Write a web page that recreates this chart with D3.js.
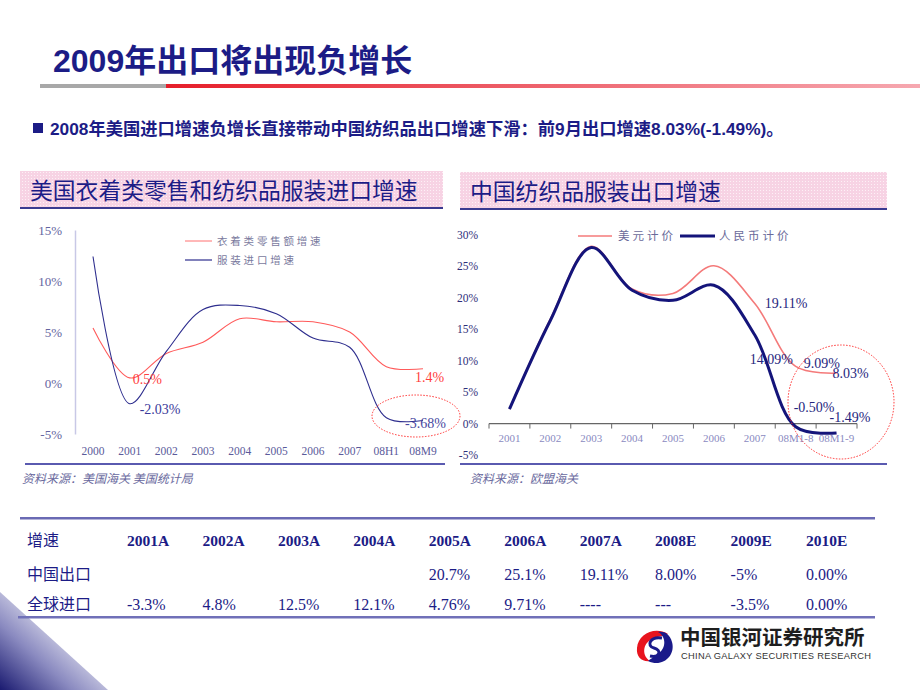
<!DOCTYPE html>
<html><head><meta charset="utf-8">
<script src="https://cdn.jsdelivr.net/npm/d3@7"></script>
<style>
body{margin:0;background:#fff;}
svg{display:block;}
</style></head>
<body>
<svg id="c" width="920" height="690"></svg>
<script>
// ---------------- DATA ----------------
const titleText = "2009年出口将出现负增长";
const bulletText = "2008年美国进口增速负增长直接带动中国纺织品出口增速下滑：前9月出口增速8.03%(-1.49%)。";
const leftTitle = "美国衣着类零售和纺织品服装进口增速";
const rightTitle = "中国纺织品服装出口增速";

const leftCats = ["2000","2001","2002","2003","2004","2005","2006","2007","08H1","08M9"];
const retailGrowth = [5.4, 0.5, 2.9, 4.0, 6.3, 6.0, 6.0, 5.0, 1.6, 1.4];
const apparelImport = [12.4, -2.03, 3.1, 7.2, 7.6, 6.8, 4.4, 3.5, -3.4, -3.68];
const leftYTicks = [-5, 0, 5, 10, 15];
const leftLegend = ["衣着类零售额增速", "服装进口增速"];
const leftSource = "资料来源：美国海关 美国统计局";

const rightCats = ["2001","2002","2003","2004","2005","2006","2007","08M1-8","08M1-9"];
const usdGrowth = [2.3, 16.6, 28.2, 21.4, 20.7, 25.1, 19.11, 9.09, 8.03];
const rmbGrowth = [2.3, 16.4, 28.0, 21.2, 19.6, 22.0, 14.09, -0.50, -1.49];
const rightYTicks = [-5, 0, 5, 10, 15, 20, 25, 30];
const rightLegend = ["美元计价", "人民币计价"];
const rightSource = "资料来源：欧盟海关";

const tableCorner = "增速";
const tableHeaders = ["2001A","2002A","2003A","2004A","2005A","2006A","2007A","2008E","2009E","2010E"];
const rowLabels = ["中国出口","全球进口"];
const chinaExport = ["","","","","20.7%","25.1%","19.11%","8.00%","-5%","0.00%"];
const globalImport = ["-3.3%","4.8%","12.5%","12.1%","4.76%","9.71%","----","---","-3.5%","0.00%"];

const logoCn = "中国银河证券研究所";
const logoEn = "CHINA GALAXY SECURITIES RESEARCH";

// ---------------- DRAW ----------------
const svg = d3.select("#c");
const SANS = "'Liberation Sans','Noto Sans CJK SC',sans-serif";
const CJK = "'Noto Sans CJK SC','Liberation Sans',sans-serif";
const SERIF = "'Liberation Serif','Noto Serif CJK SC',serif";
const NAVY = "#1c1c86";

const defs = svg.append("defs");
const rg = defs.append("linearGradient").attr("id","redline").attr("x1","0").attr("x2","1");
rg.append("stop").attr("offset","0").attr("stop-color","#e61e2a");
rg.append("stop").attr("offset","1").attr("stop-color","#f6a8b0");
const cg = defs.append("linearGradient").attr("id","corner").attr("x1","0").attr("y1","1").attr("x2","0.75").attr("y2","0.25");
cg.append("stop").attr("offset","0").attr("stop-color","#1a1a70");
cg.append("stop").attr("offset","0.45").attr("stop-color","#8a8ac0");
cg.append("stop").attr("offset","1").attr("stop-color","#ffffff");
const pat = defs.append("pattern").attr("id","pinkdots").attr("width",3).attr("height",3).attr("patternUnits","userSpaceOnUse");
pat.append("rect").attr("width",3).attr("height",3).attr("fill","#f7d3e4");
pat.append("rect").attr("x",1).attr("y",1).attr("width",1).attr("height",1).attr("fill","#fdf0f6");

// corner decoration
svg.append("path").attr("d","M0,592 L108,690 L0,690 Z").attr("fill","url(#corner)");

// title
svg.append("text").attr("x",53).attr("y",72).attr("font-family",SANS).attr("font-weight","bold")
  .attr("font-size",32).attr("fill",NAVY).text(titleText);
svg.append("rect").attr("x",40).attr("y",84).attr("width",126).attr("height",4).attr("fill","#a8a8a8");
svg.append("rect").attr("x",166).attr("y",84).attr("width",754).attr("height",4).attr("fill","url(#redline)");

// bullet
svg.append("rect").attr("x",33).attr("y",123).attr("width",10).attr("height",10).attr("fill",NAVY);
svg.append("text").attr("x",50).attr("y",135).attr("font-family",SANS).attr("font-weight","bold")
  .attr("font-size",17.3).attr("fill",NAVY).text(bulletText);

// section headers
function header(x0, x1, y0, y1, txt){
  svg.append("rect").attr("x",x0).attr("y",y0).attr("width",x1-x0).attr("height",y1-y0).attr("fill","url(#pinkdots)");
  svg.append("rect").attr("x",x0).attr("y",y1).attr("width",x1-x0).attr("height",2).attr("fill","#3a3a90");
  svg.append("text").attr("x",x0+10).attr("y",y1-8).attr("font-family",CJK).attr("font-size",22.8)
    .attr("fill",NAVY).text(txt);
}
header(20, 443, 171, 207, leftTitle);
header(460, 887, 172, 208, rightTitle);

// ---------------- LEFT CHART ----------------
const lx = d3.scalePoint().domain(leftCats).range([93, 423]);
const ly = d3.scaleLinear().domain([-5, 15]).range([434, 230]);
const lg = svg.append("g");
const lAxis = lg.append("g").attr("transform","translate(75,0)")
  .call(d3.axisLeft(ly).tickValues(leftYTicks).tickSize(0).tickPadding(13).tickFormat(d=>d+"%"));
lAxis.select(".domain").attr("stroke","#c8c8e6").attr("stroke-width",1.5);
lAxis.selectAll("text").attr("font-family",SERIF).attr("font-size",13).attr("fill","#6464a0");
leftCats.forEach(c=>{
  lg.append("text").attr("x",lx(c)).attr("y",455).attr("text-anchor","middle").attr("font-family",SERIF)
    .attr("font-size",11.5).attr("fill","#5a5a9a").text(c);
});
const lline = d3.line().x((d,i)=>lx(leftCats[i])).y(d=>ly(d)).curve(d3.curveCatmullRom.alpha(0.5));
lg.append("path").attr("d",lline(retailGrowth)).attr("fill","none").attr("stroke","#ff5a5a").attr("stroke-width",1.1);
lg.append("path").attr("d",lline(apparelImport)).attr("fill","none").attr("stroke","#2e2e8e").attr("stroke-width",1.1);
// legend
lg.append("line").attr("x1",185).attr("x2",212).attr("y1",241).attr("y2",241).attr("stroke","#ff7070").attr("stroke-width",1);
lg.append("text").attr("x",217).attr("y",245).attr("font-family",CJK).attr("font-size",10.5).attr("letter-spacing",2.8)
  .attr("fill","#7a7a9e").text(leftLegend[0]);
lg.append("line").attr("x1",185).attr("x2",212).attr("y1",260).attr("y2",260).attr("stroke","#2e2e8e").attr("stroke-width",1.2);
lg.append("text").attr("x",217).attr("y",264).attr("font-family",CJK).attr("font-size",10.5).attr("letter-spacing",2.8)
  .attr("fill","#7a7a9e").text(leftLegend[1]);
// value labels
lg.append("text").attr("x",lx("2001")+3).attr("y",ly(retailGrowth[1])+6).attr("font-family",SERIF).attr("font-size",14)
  .attr("fill","#ff4040").text(retailGrowth[1]+"%");
lg.append("text").attr("x",lx("2001")+10).attr("y",ly(apparelImport[1])+10).attr("font-family",SERIF).attr("font-size",14)
  .attr("fill","#3a3a9a").text(apparelImport[1].toFixed(2)+"%");
lg.append("text").attr("x",lx("08M9")-8).attr("y",ly(retailGrowth[9])+13).attr("font-family",SERIF).attr("font-size",14)
  .attr("fill","#ff4040").text(retailGrowth[9]+"%");
lg.append("text").attr("x",lx("08M9")-18).attr("y",ly(apparelImport[9])+7).attr("font-family",SERIF).attr("font-size",14)
  .attr("fill","#4848a0").text(apparelImport[9].toFixed(2)+"%");
lg.append("ellipse").attr("cx",416).attr("cy",416).attr("rx",44).attr("ry",21).attr("fill","none")
  .attr("stroke","#ff3030").attr("stroke-width",1).attr("stroke-dasharray","1.5,1.5");
// bottom line and source
svg.append("rect").attr("x",25).attr("y",463).attr("width",420).attr("height",2).attr("fill","#5a5ab0");
svg.append("text").attr("x",22).attr("y",483).attr("font-family",CJK).attr("font-style","italic").attr("font-size",12)
  .attr("fill","#6a6a9e").text(leftSource);

// ---------------- RIGHT CHART ----------------
const rx = d3.scaleBand().domain(rightCats).range([489, 857]);
const ry = d3.scaleLinear().domain([-5, 30]).range([455, 235]);
const rgp = svg.append("g");
rightYTicks.forEach(t=>{
  rgp.append("text").attr("x",478).attr("y",ry(t)+4).attr("text-anchor","end").attr("font-family",SERIF)
    .attr("font-size",11.5).attr("fill","#2e2e7a").text(t+"%");
});
rgp.append("line").attr("x1",489).attr("x2",857).attr("y1",ry(0)).attr("y2",ry(0)).attr("stroke","#666").attr("stroke-width",1.2);
rightCats.concat([null]).forEach((c,i)=>{
  const xx = c===null ? rx.range()[1] : rx(c);
  rgp.append("line").attr("x1",xx).attr("x2",xx).attr("y1",ry(0)).attr("y2",ry(0)+5).attr("stroke","#666");
});
rightCats.forEach(c=>{
  rgp.append("text").attr("x",rx(c)+rx.bandwidth()/2).attr("y",442).attr("text-anchor","middle")
    .attr("font-family",SERIF).attr("font-size",11).attr("fill","#8a8abf").text(c);
});
const rline = d3.line().x((d,i)=>rx(rightCats[i])+rx.bandwidth()/2).y(d=>ry(d)).curve(d3.curveCatmullRom.alpha(0.5));
rgp.append("path").attr("d",rline(usdGrowth)).attr("fill","none").attr("stroke","#f47a7a").attr("stroke-width",1.6);
rgp.append("path").attr("d",rline(rmbGrowth)).attr("fill","none").attr("stroke","#14147a").attr("stroke-width",3);
// legend
rgp.append("line").attr("x1",578).attr("x2",612).attr("y1",236).attr("y2",236).attr("stroke","#f47a7a").attr("stroke-width",1.5);
rgp.append("text").attr("x",618).attr("y",240).attr("font-family",CJK).attr("font-size",11.5).attr("letter-spacing",3)
  .attr("fill","#6a6a9a").text(rightLegend[0]);
rgp.append("line").attr("x1",680).attr("x2",715).attr("y1",236).attr("y2",236).attr("stroke","#14147a").attr("stroke-width",3);
rgp.append("text").attr("x",719).attr("y",240).attr("font-family",CJK).attr("font-size",11.5).attr("letter-spacing",3)
  .attr("fill","#6a6a9a").text(rightLegend[1]);
// labels
const lab = (x,y,t)=>rgp.append("text").attr("x",x).attr("y",y).attr("font-family",SERIF).attr("font-size",14)
  .attr("fill","#26267e").text(t);
const cx = c=>rx(c)+rx.bandwidth()/2;
lab(cx("2007")+10, ry(usdGrowth[6])+5, usdGrowth[6].toFixed(2)+"%");
lab(cx("2007")-5, ry(rmbGrowth[6])+29, rmbGrowth[6].toFixed(2)+"%");
lab(cx("08M1-8")+8, ry(usdGrowth[7])+2, usdGrowth[7].toFixed(2)+"%");
lab(cx("08M1-9")-4, ry(usdGrowth[8])+5, usdGrowth[8].toFixed(2)+"%");
lab(cx("08M1-8")-2, ry(rmbGrowth[7])-15, rmbGrowth[7].toFixed(2)+"%");
lab(cx("08M1-9")-7, ry(rmbGrowth[8])-11, rmbGrowth[8].toFixed(2)+"%");
rgp.append("ellipse").attr("cx",841).attr("cy",402).attr("rx",53).attr("ry",57).attr("fill","none")
  .attr("stroke","#ff3030").attr("stroke-width",1).attr("stroke-dasharray","1.5,1.5");
svg.append("rect").attr("x",460).attr("y",463).attr("width",427).attr("height",2).attr("fill","#5a5ab0");
svg.append("text").attr("x",470).attr("y",483).attr("font-family",CJK).attr("font-style","italic").attr("font-size",12)
  .attr("fill","#6a6a9e").text(rightSource);

// ---------------- TABLE ----------------
const tx = d3.scalePoint().domain(tableHeaders).range([127, 806]);
svg.append("rect").attr("x",20).attr("y",517).attr("width",855).attr("height",2.5).attr("fill","#6a6ab4");
svg.append("rect").attr("x",18).attr("y",616).attr("width",857).attr("height",2.5).attr("fill","#7070b8");
svg.append("text").attr("x",27).attr("y",546).attr("font-family",CJK).attr("font-size",16).attr("fill",NAVY).text(tableCorner);
tableHeaders.forEach(h=>{
  svg.append("text").attr("x",tx(h)).attr("y",546).attr("font-family",SERIF).attr("font-weight","bold")
    .attr("font-size",15.5).attr("fill",NAVY).text(h);
});
[chinaExport, globalImport].forEach((row, r)=>{
  const yy = 580 + r*30;
  svg.append("text").attr("x",27).attr("y",yy).attr("font-family",CJK).attr("font-size",16).attr("fill",NAVY).text(rowLabels[r]);
  row.forEach((v,i)=>{
    svg.append("text").attr("x",tx(tableHeaders[i])).attr("y",yy).attr("font-family",SERIF)
      .attr("font-size",16).attr("fill",NAVY).text(v);
  });
});

// ---------------- LOGO ----------------
const lgo = svg.append("g");
lgo.append("path").attr("d","M668,634 C655,626 638,634 637,648 C636,657 642,662 650,661 C642,656 642,644 652,639 C658,636 664,636 668,634 Z")
  .attr("fill","#e8141e");
lgo.append("path").attr("d","M648,661 C662,668 676,656 672,642 C670,634 664,631 658,632 C666,636 667,648 658,654 C654,657 650,659 648,661 Z")
  .attr("fill","#1a1a8a");
lgo.append("path").attr("d","M662,638 C650,636 646,646 654,648 C662,650 660,658 650,656")
  .attr("fill","none").attr("stroke","#1a1a8a").attr("stroke-width",3);
svg.append("text").attr("x",680).attr("y",645).attr("font-family",CJK).attr("font-weight","bold").attr("font-size",20.5)
  .attr("fill","#1e1e1e").text(logoCn);
svg.append("text").attr("x",681).attr("y",659).attr("font-family",SANS).attr("font-size",9.3).attr("letter-spacing",0.3)
  .attr("fill","#333").text(logoEn);
</script>
</body></html>
